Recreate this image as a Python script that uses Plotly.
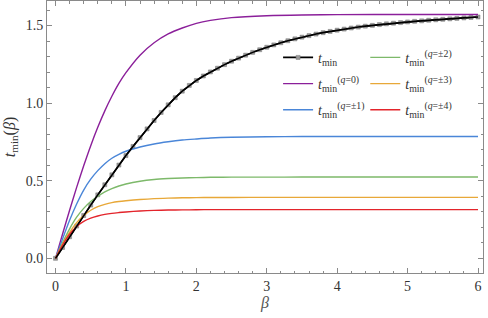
import plotly.graph_objects as go

# --- data ---
beta_fine = [round(0.1 * i, 1) for i in range(61)]
t_min = [0.000, 0.070, 0.139, 0.208, 0.276, 0.343, 0.409, 0.474, 0.538, 0.601,
         0.662, 0.721, 0.778, 0.834, 0.888, 0.940, 0.989, 1.035, 1.077, 1.114,
         1.146, 1.175, 1.201, 1.225, 1.248, 1.270, 1.290, 1.309, 1.327, 1.344,
         1.360, 1.375, 1.389, 1.402, 1.414, 1.425, 1.435, 1.445, 1.454, 1.462,
         1.470, 1.477, 1.484, 1.490, 1.496, 1.501, 1.506, 1.511, 1.515, 1.519,
         1.523, 1.527, 1.530, 1.534, 1.537, 1.540, 1.543, 1.546, 1.549, 1.552,
         1.555]

beta = [0.0, 0.1, 0.2, 0.3, 0.4, 0.5, 0.6, 0.7, 0.8, 0.9, 1.0,
        1.2, 1.4, 1.6, 1.8, 2.0, 2.2, 2.5, 3.0, 3.5, 4.0, 5.0, 6.0]
t_q0 = [0, 0.157, 0.310, 0.457, 0.596, 0.726, 0.844, 0.950, 1.044, 1.127, 1.196,
        1.309, 1.389, 1.446, 1.484, 1.514, 1.533, 1.551, 1.563, 1.568, 1.570, 1.571, 1.571]
t_q1 = [0, 0.125, 0.245, 0.350, 0.440, 0.510, 0.565, 0.610, 0.645, 0.670, 0.690,
        0.717, 0.737, 0.751, 0.762, 0.769, 0.775, 0.780, 0.783, 0.785, 0.785, 0.785, 0.785]
t_q2 = [0, 0.100, 0.190, 0.265, 0.322, 0.366, 0.400, 0.428, 0.449, 0.466, 0.479,
        0.497, 0.508, 0.514, 0.518, 0.520, 0.522, 0.523, 0.523, 0.524, 0.524, 0.524, 0.524]
t_q3 = [0, 0.090, 0.168, 0.230, 0.275, 0.310, 0.333, 0.348, 0.359, 0.366, 0.371,
        0.379, 0.385, 0.388, 0.390, 0.391, 0.392, 0.392, 0.393, 0.393, 0.393, 0.393, 0.393]
t_q4 = [0, 0.085, 0.155, 0.205, 0.238, 0.259, 0.273, 0.283, 0.290, 0.295, 0.299,
        0.305, 0.309, 0.311, 0.312, 0.313, 0.314, 0.314, 0.314, 0.314, 0.314, 0.314, 0.314]

x_ticks = [0, 1, 2, 3, 4, 5, 6]
y_ticks = [0.0, 0.5, 1.0, 1.5]

FONT = "Liberation Serif"
T = "<i>t</i><sub>min</sub>"

fig = go.Figure()

series = [
    (t_q0, "#8B1F9A", T + "<sup>(<i>q</i>=0)</sup>", "legend", "g1"),
    (t_q1, "#4A86D8", T + "<sup>(<i>q</i>=±1)</sup>", "legend", "g2"),
    (t_q2, "#7DB96A", T + "<sup>(<i>q</i>=±2)</sup>", "legend2", "h0"),
    (t_q3, "#E8A838", T + "<sup>(<i>q</i>=±3)</sup>", "legend2", "h1"),
    (t_q4, "#E3242B", T + "<sup>(<i>q</i>=±4)</sup>", "legend2", "h2"),
]

# black numerical curve with markers
fig.add_trace(go.Scatter(x=beta_fine, y=t_min, mode="lines+markers", name=T,
                         line=dict(color="black", width=1.6),
                         marker=dict(symbol="square", size=4, color="#9a9a9a",
                                     line=dict(color="#777", width=0.5)),
                         legend="legend", legendgroup="g0"))
for ys, col, name, lg, grp in series:
    fig.add_trace(go.Scatter(x=beta, y=ys, mode="lines", name=name,
                             line=dict(color=col, width=1.4, shape="spline", smoothing=0.8),
                             legend=lg, legendgroup=grp))
fig.add_trace(go.Scatter(x=beta_fine, y=t_min, mode="lines", showlegend=False,
                         line=dict(color="black", width=1.6)))

axis_common = dict(
    showline=True, linecolor="#8a8a8a", linewidth=1, mirror="allticks",
    ticks="inside", ticklen=5, tickcolor="#8a8a8a", tickwidth=1,
    showgrid=False, zeroline=False, automargin=False,
    tickfont=dict(family=FONT, size=14, color="#333"),
)

leg_common = dict(yanchor="top", xanchor="left", bgcolor="rgba(0,0,0,0)",
                  font=dict(family=FONT, size=14, color="#333"),
                  itemwidth=30, tracegroupgap=5, traceorder="grouped")

fig.update_layout(
    width=488, height=318,
    margin=dict(l=47, r=5, t=1, b=45),
    paper_bgcolor="white", plot_bgcolor="white",
    font=dict(family=FONT, size=14, color="#333"),
    xaxis=dict(range=[-0.121, 6.071], tickvals=x_ticks,
               minor=dict(dtick=0.2, tick0=0, ticks="inside", ticklen=2.5, tickcolor="#8a8a8a"),
               title=dict(text="<i>β</i>", font=dict(family=FONT, size=16, color="#555"), standoff=2),
               **axis_common),
    yaxis=dict(range=[-0.0945, 1.658], tickvals=y_ticks, tickformat=".1f",
               minor=dict(dtick=0.1, tick0=0, ticks="inside", ticklen=2.5, tickcolor="#8a8a8a"),
               title=dict(text="<i>t</i><sub>min</sub>(<i>β</i>)", font=dict(family=FONT, size=16, color="#333"), standoff=6),
               **axis_common),
    legend=dict(x=0.53, y=0.85, **leg_common),
    legend2=dict(x=0.73, y=0.85, **leg_common),
)

fig.write_html("out.html",
               config={"displayModeBar": False},
               post_script="document.body.style.margin='0';document.body.style.padding='0';")
